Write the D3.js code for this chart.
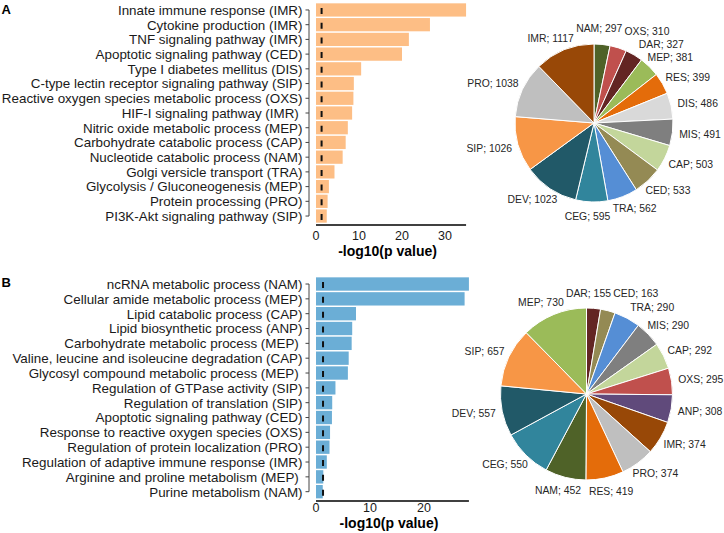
<!DOCTYPE html>
<html><head><meta charset="utf-8">
<script src="https://cdn.jsdelivr.net/npm/d3@7"></script>
<style>
body{margin:0;background:#fff;}
svg{display:block;font-family:"Liberation Sans",Arial,Helvetica,sans-serif;}
</style></head><body>
<svg id="chart" width="724" height="533"></svg>
<script>
// ---------------- data ----------------
const termsA = [
  "Innate immune response (IMR)",
  "Cytokine production (IMR)",
  "TNF signaling pathway (IMR)",
  "Apoptotic signaling pathway (CED)",
  "Type I diabetes mellitus (DIS)",
  "C-type lectin receptor signaling pathway (SIP)",
  "Reactive oxygen species metabolic process (OXS)",
  "HIF-I signaling pathway (IMR) ",
  "Nitric oxide metabolic process (MEP)",
  "Carbohydrate catabolic process (CAP)",
  "Nucleotide catabolic process (NAM)",
  "Golgi versicle transport (TRA)",
  "Glycolysis / Gluconeogenesis (MEP)",
  "Protein processing (PRO)",
  "PI3K-Akt signaling pathway (SIP)"
];
const valuesA = [34.9, 26.5, 21.6, 20.0, 10.5, 8.8, 8.7, 8.4, 7.4, 6.9, 6.2, 4.3, 3.0, 2.7, 2.5];

const termsB = [
  "ncRNA metabolic process (NAM)",
  "Cellular amide metabolic process (MEP)",
  "Lipid catabolic process (CAP)",
  "Lipid biosynthetic process (ANP)",
  "Carbohydrate metabolic process (MEP) ",
  "Valine, leucine and isoleucine degradation (CAP)",
  "Glycosyl compound metabolic process (MEP) ",
  "Regulation of GTPase activity (SIP)",
  "Regulation of translation (SIP)",
  "Apoptotic signaling pathway (CED)",
  "Response to reactive oxygen species (OXS)",
  "Regulation of protein localization (PRO)",
  "Regulation of adaptive immune response (IMR)",
  "Arginine and proline metabolism (MEP) ",
  "Purine metabolism (NAM)"
];
const valuesB = [28.3, 27.5, 7.4, 6.7, 6.6, 6.05, 5.9, 3.6, 3.0, 2.95, 2.6, 2.5, 2.0, 1.35, 1.25];

const xTicksA = [0, 10, 20, 30];
const xTicksB = [0, 10, 20];
const pThreshold = 0.05;

const pieCatA = ["NAM","OXS","DAR","MEP","RES","DIS","MIS","CAP","CED","TRA","CEG","DEV","SIP","PRO","IMR"];
const pieValA = [297, 310, 327, 381, 399, 486, 491, 503, 533, 562, 595, 1023, 1026, 1038, 1117];

const pieCatB = ["DAR","CED","TRA","MIS","CAP","OXS","ANP","IMR","PRO","RES","NAM","CEG","DEV","SIP","MEP"];
const pieValB = [155, 163, 290, 290, 292, 295, 308, 374, 374, 419, 452, 550, 557, 657, 730];

const catColor = {
  NAM:"#4F6228", OXS:"#C0504D", DAR:"#632523", MEP:"#9BBB59", RES:"#E46C0A",
  DIS:"#D9D9D9", MIS:"#7F7F7F", CAP:"#C3D69B", CED:"#948A54", TRA:"#558ED5",
  CEG:"#31859C", DEV:"#215968", SIP:"#F79646", PRO:"#BFBFBF", IMR:"#984807",
  ANP:"#604A7B"
};

// ---------------- drawing ----------------
const svg = d3.select("#chart");
const thr = -Math.log10(pThreshold);

function drawBars(cfg) {
  const g = svg.append("g");
  const y = d3.scaleBand().domain(cfg.terms).range(cfg.yRange)
    .paddingInner(0.1).paddingOuter(0.05);
  const x = d3.scaleLinear().domain(cfg.xDomain).range(cfg.xRange);
  const panelLeft = cfg.axisX;
  const maxV = d3.max(cfg.values);

  g.selectAll("rect.bar").data(cfg.terms).join("rect")
    .attr("class","bar")
    .attr("x", x(0))
    .attr("y", d => y(d))
    .attr("width", (d,i) => x(cfg.values[i]) - x(0))
    .attr("height", y.bandwidth())
    .attr("fill", cfg.color);

  const yTop = cfg.yRange[0] - 2;
  const yBot = cfg.axisY;
  g.append("line")
    .attr("x1", x(thr)).attr("x2", x(thr))
    .attr("y1", yTop).attr("y2", yBot)
    .attr("stroke", "#111").attr("stroke-width", 2)
    .attr("stroke-dasharray", "6," + (y.step() - 6).toFixed(2))
    .attr("stroke-dashoffset", -(y(cfg.terms[0]) + y.bandwidth()/2 - 2 - yTop).toFixed(2));

  const first = y(cfg.terms[0]) + y.bandwidth()/2;
  const last = y(cfg.terms[cfg.terms.length-1]) + y.bandwidth()/2;
  g.append("line").attr("x1", panelLeft).attr("x2", panelLeft)
    .attr("y1", first).attr("y2", last)
    .attr("stroke","#444").attr("stroke-width",1);
  const yg = g.append("g");
  cfg.terms.forEach(t => {
    const cy = y(t) + y.bandwidth()/2;
    yg.append("line").attr("x1", panelLeft - 3.5).attr("x2", panelLeft)
      .attr("y1", cy).attr("y2", cy).attr("stroke","#444").attr("stroke-width",1);
    yg.append("text").attr("x", panelLeft - 6.5).attr("y", cy).attr("dy","0.36em")
      .attr("text-anchor","end").style("white-space","pre")
      .attr("font-size", 13.4).attr("fill","#1a1a1a").text(t);
  });

  g.append("line").attr("x1", x(0)).attr("x2", x(maxV))
    .attr("y1", cfg.axisY).attr("y2", cfg.axisY)
    .attr("stroke","#000").attr("stroke-width",1.3);
  cfg.ticks.forEach(t => {
    g.append("text").attr("x", x(t)).attr("y", cfg.tickY)
      .attr("text-anchor","middle").attr("font-size",12.5).attr("fill","#1a1a1a").text(t);
  });
  g.append("text").attr("x", (panelLeft + x(maxV))/2).attr("y", cfg.titleY)
    .attr("text-anchor","middle").attr("font-size",14).attr("font-weight","bold")
    .attr("fill","#000").text("-log10(p value)");

  svg.append("text").attr("x", 1.5).attr("y", cfg.letterY)
    .attr("font-size",13).attr("font-weight","bold").text(cfg.letter);
}

drawBars({terms: termsA, values: valuesA, color:"#FDBE85",
  yRange:[2.6, 223.4], xDomain:[0,35], xRange:[316, 466.5], axisX:309,
  axisY:225, ticks:xTicksA, tickY:239.5, titleY:255.5, letter:"A", letterY:14});

drawBars({terms: termsB, values: valuesB, color:"#6BAED6",
  yRange:[276.6, 499.1], xDomain:[0,28.5], xRange:[316, 470], axisX:309,
  axisY:501, ticks:xTicksB, tickY:512, titleY:528, letter:"B", letterY:287});

function drawPie(cats, vals, cx, cy, r) {
  const g = svg.append("g");
  const data = cats.map((c,i)=>({cat:c, v:vals[i]}));
  const arcs = d3.pie().sort(null).value(d=>d.v)(data);
  const arc = d3.arc().innerRadius(0).outerRadius(r);
  g.selectAll("path").data(arcs).join("path")
    .attr("transform", `translate(${cx},${cy})`)
    .attr("d", arc)
    .attr("fill", d => catColor[d.data.cat])
    .attr("stroke","#fff").attr("stroke-width",1);

  const fs = 10.4, h = 12.5, gap = 7;
  const labs = arcs.map(a => {
    const t = g.append("text").attr("font-size", fs).attr("fill","#262626")
      .attr("text-anchor","middle").attr("dy","0.35em")
      .text(`${a.data.cat}; ${a.data.v}`);
    return {node:t, w:t.node().getComputedTextLength(), mid:(a.startAngle+a.endAngle)/2, extra:0};
  });
  const place = a => {
    const s = Math.sin(a.t), c = Math.cos(a.t);
    a.x = cx + (r+gap+a.extra)*s + a.w/2*s;
    a.y = cy - (r+gap+a.extra)*c - h/2*c;
  };
  labs.forEach(a => { a.t = a.mid; place(a); });
  const overlap = (a,b) => Math.abs(a.x-b.x) < (a.w+b.w)/2 + 2 && Math.abs(a.y-b.y) < h;
  for (let it=0; it<3000; it++) {
    let moved = false;
    for (let i=0;i<labs.length;i++) {
      const a = labs[i], b = labs[(i+1)%labs.length];
      if (overlap(a,b)) {
        a.t -= 0.0015; b.t += 0.003;
        if (b.extra < 12) b.extra += 0.15;
        place(a); place(b); moved = true;
      }
    }
    if (!moved) break;
  }
  labs.forEach(a => a.node.attr("x", a.x).attr("y", a.y));
}

drawPie(pieCatA, pieValA, 594, 123, 79);
drawPie(pieCatB, pieValB, 586.5, 394, 86);
</script>
</body></html>
